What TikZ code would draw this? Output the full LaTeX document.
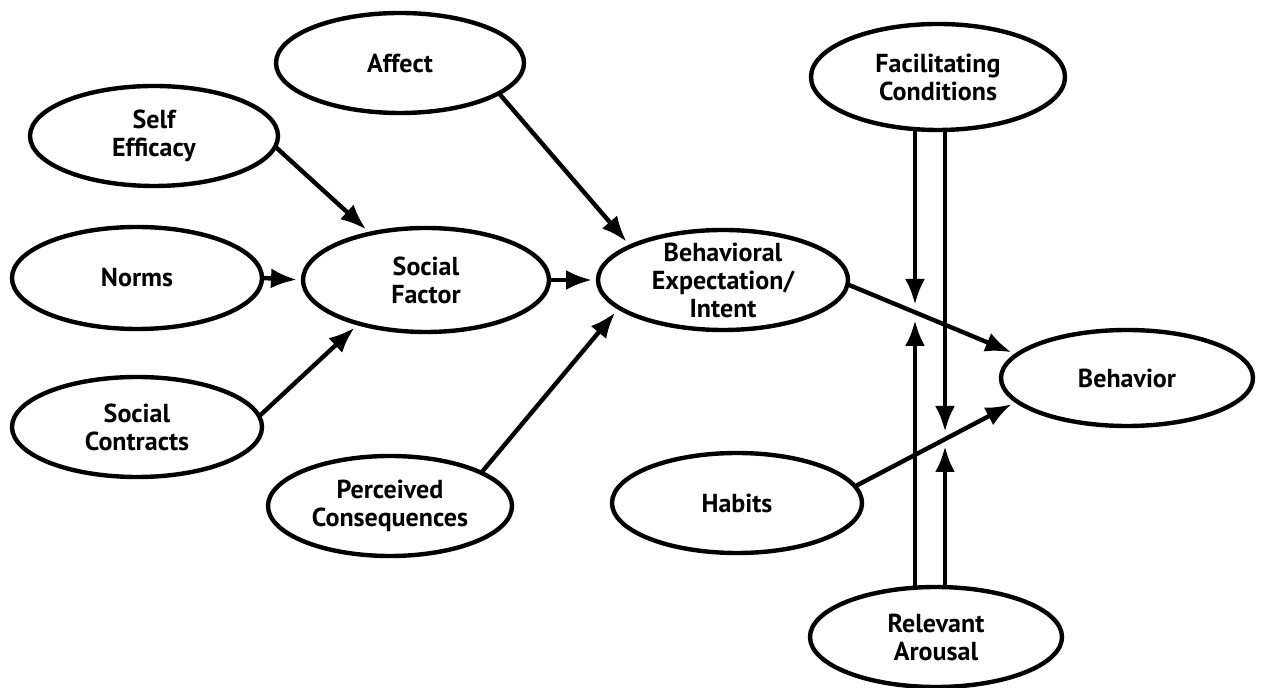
\documentclass[tikz,border=0pt]{standalone}
\usepackage{fontspec}
\setmainfont{PT Sans}
\usetikzlibrary{shapes.geometric,arrows.meta}
\begin{document}
\begin{tikzpicture}[x=0.5pt,y=-0.5pt,
  oval/.style={ellipse, draw, line width=2.2pt, inner xsep=-40pt, inner ysep=-15pt,
    outer sep=0pt, align=center, font=\bfseries\fontsize{13}{14}\selectfont},
  link/.style={line width=2.2pt, -{Latex[length=13pt,width=10pt]}, shorten >=3pt},
  bar/.style={line width=2.4pt, -{Latex[length=13pt,width=10pt]}}
]
\useasboundingbox (0,0) rectangle (1261,688);

% determinants on the left
\node[oval, minimum width=124pt, minimum height=50pt] (se)    at (154,136) {Self\\Efficacy};
\node[oval, minimum width=124pt, minimum height=50pt] (aff)   at (400,63)  {Affect};
\node[oval, minimum width=125pt, minimum height=51pt] (norms) at (137,278) {Norms};
\node[oval, minimum width=125pt, minimum height=50pt] (sc)    at (137,427) {Social\\Contracts};
\node[oval, minimum width=123pt, minimum height=52pt] (sf)    at (426,280) {Social\\Factor};
\node[oval, minimum width=122pt, minimum height=50pt] (pc)    at (390,506) {Perceived\\Consequences};

% intention, moderators and outcome
\node[oval, minimum width=125pt, minimum height=50pt] (be)    at (723,280) {Behavioral\\Expectation/\\Intent};
\node[oval, minimum width=127pt, minimum height=53pt] (fc)    at (938,77)  {Facilitating\\Conditions};
\node[oval, minimum width=126pt, minimum height=48pt] (beh)   at (1127,378) {Behavior};
\node[oval, minimum width=125pt, minimum height=50pt] (hab)   at (737,503) {Habits};
\node[oval, minimum width=126pt, minimum height=50pt] (ra)    at (936,637) {Relevant\\Arousal};

% causal paths
\draw[link] (se.-5)   -- (sf.140);
\draw[link] (norms.east) -- (sf.west);
\draw[link] (sc.5)    -- (sf.213);
\draw[link] (sf.east) -- (be.west);
\draw[link] (aff.-17) -- (be.160);
\draw[link] (pc.20)   -- (be.195);
\draw[link] (be.-2)   -- (beh.168);
\draw[link] (hab.8)   -- (beh.192);

% moderating influences acting on the two paths into Behavior
\coordinate (colL) at (915,0);
\coordinate (colR) at (945,0);
\coordinate (dl) at (915,305);
\coordinate (ul) at (915,320);
\coordinate (dr) at (945,432);
\coordinate (ur) at (945,446);
\draw[bar] (fc.south -| colL) -- (dl);
\draw[bar] (fc.south -| colR) -- (dr);
\draw[bar] (ra.north -| colL) -- (ul);
\draw[bar] (ra.north -| colR) -- (ur);
\end{tikzpicture}
\end{document}
